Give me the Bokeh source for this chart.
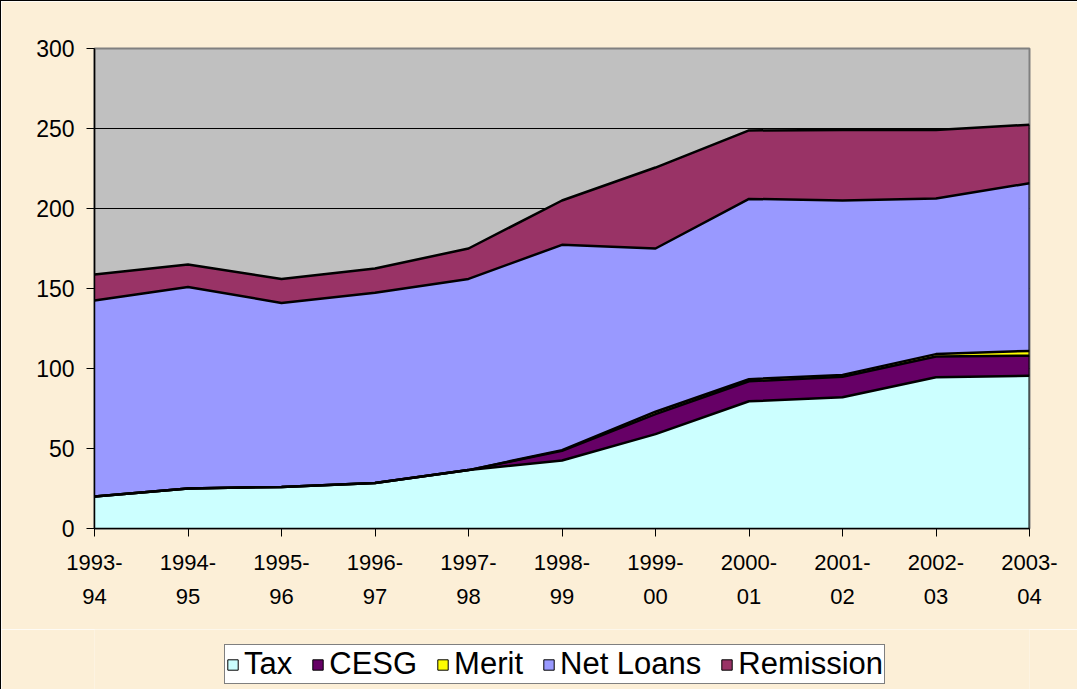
import numpy as np
from bokeh.plotting import figure
from bokeh.layouts import column
from bokeh.models import FixedTicker, Legend, LegendItem, Range1d
from bokeh.embed import file_html
from bokeh.resources import INLINE

years = ["1993-\n94", "1994-\n95", "1995-\n96", "1996-\n97", "1997-\n98", "1998-\n99",
         "1999-\n00", "2000-\n01", "2001-\n02", "2002-\n03", "2003-\n04"]
tax = [20, 25, 26, 28.5, 36.5, 42.5, 59, 79.5, 82, 94.5, 95.5]
cesg = [0, 0, 0, 0, 0, 6, 12.5, 12.5, 12.8, 13, 12.5]
merit = [0, 0, 0, 0, 0, 0.5, 1.5, 1.3, 1.2, 1.5, 3]
net_loans = [122.5, 126, 115, 118.8, 119.5, 128.3, 102, 112.7, 109, 97.3, 104.8]
remission = [16.3, 14, 15, 15.2, 19, 27.7, 50.6, 42.8, 44, 42.7, 36.6]

names = ["Tax", "CESG", "Merit", "Net Loans", "Remission"]
series = [tax, cesg, merit, net_loans, remission]
colors = ["#CCFFFF", "#660066", "#FFFF00", "#9999FF", "#993366"]

BG = "#FCEFD7"
font = "Liberation Sans"
x = list(range(len(years)))

p = figure(width=1076, height=628, output_backend="svg", toolbar_location=None,
           x_range=Range1d(0, len(years) - 1), y_range=Range1d(0, 300),
           min_border_left=93, min_border_right=48, min_border_top=47, min_border_bottom=101)

p.background_fill_color = "#C0C0C0"
p.border_fill_color = BG
p.outline_line_color = "#808080"
p.outline_line_width = 2

p.xgrid.grid_line_color = None
p.ygrid.grid_line_color = "black"
p.ygrid.grid_line_width = 1

bottom = np.zeros(len(x))
tops = []
for name, vals, col in zip(names, series, colors):
    top = bottom + np.array(vals, dtype=float)
    p.varea(x=x, y1=bottom.tolist(), y2=top.tolist(), fill_color=col)
    tops.append(top)
    bottom = top

for t in tops:
    p.line(x=x, y=t.tolist(), line_color="black", line_width=2.5)
# right-hand edge of the stacked areas
p.line(x=[x[-1], x[-1]], y=[0.0, float(tops[-1][-1])], line_color="black", line_width=2)

p.xaxis.ticker = FixedTicker(ticks=x)
p.xaxis.major_label_overrides = {i: lab for i, lab in zip(x, years)}
p.xaxis.major_label_text_font = font
p.xaxis.major_label_text_font_size = "22px"
p.xaxis.major_label_text_line_height = 1.38
p.xaxis.major_label_text_color = "black"
p.xaxis.major_label_standoff = 13
p.xaxis.major_tick_in = 0
p.xaxis.major_tick_out = 8
p.xaxis.minor_tick_line_color = None
p.xaxis.axis_line_color = "black"
p.xaxis.axis_line_width = 1.5

p.yaxis.ticker = FixedTicker(ticks=[0, 50, 100, 150, 200, 250, 300])
p.yaxis.major_label_text_font = font
p.yaxis.major_label_text_font_size = "23px"
p.yaxis.major_label_text_color = "black"
p.yaxis.major_label_standoff = 12
p.yaxis.major_tick_in = 0
p.yaxis.major_tick_out = 8
p.yaxis.minor_tick_line_color = None
p.yaxis.axis_line_color = "black"
p.yaxis.axis_line_width = 1.5

# legend strip (its frame is aligned with the chart's frame by the column layout)
lp = figure(width=1076, height=60, output_backend="svg", toolbar_location=None,
            x_range=Range1d(0, 1), y_range=Range1d(0, 1),
            min_border=0, x_axis_location=None, y_axis_location=None)
lp.background_fill_color = BG
lp.border_fill_color = BG
lp.outline_line_color = None
lp.grid.grid_line_color = None

nan = float("nan")
items = []
for name, col in zip(names, colors):
    key = lp.quad(left=[nan], right=[nan], top=[nan], bottom=[nan], fill_color=col,
                  line_color="black", line_width=1)
    items.append(LegendItem(label=name, renderers=[key]))

legend = Legend(items=items, orientation="horizontal", location=(130, 5),
                label_text_font=font, label_text_font_size="31px",
                label_text_color="black",
                glyph_width=13, glyph_height=13, label_standoff=5, spacing=19,
                padding=1, margin=0,
                border_line_color="black", border_line_width=1,
                background_fill_color="white", background_fill_alpha=1)
lp.add_layout(legend, "center")

layout = column(p, lp, spacing=0)
layout.styles = {"border-top": "1px solid black", "border-left": "1px solid black"}

open("out.html", "w").write(file_html(layout, INLINE))
